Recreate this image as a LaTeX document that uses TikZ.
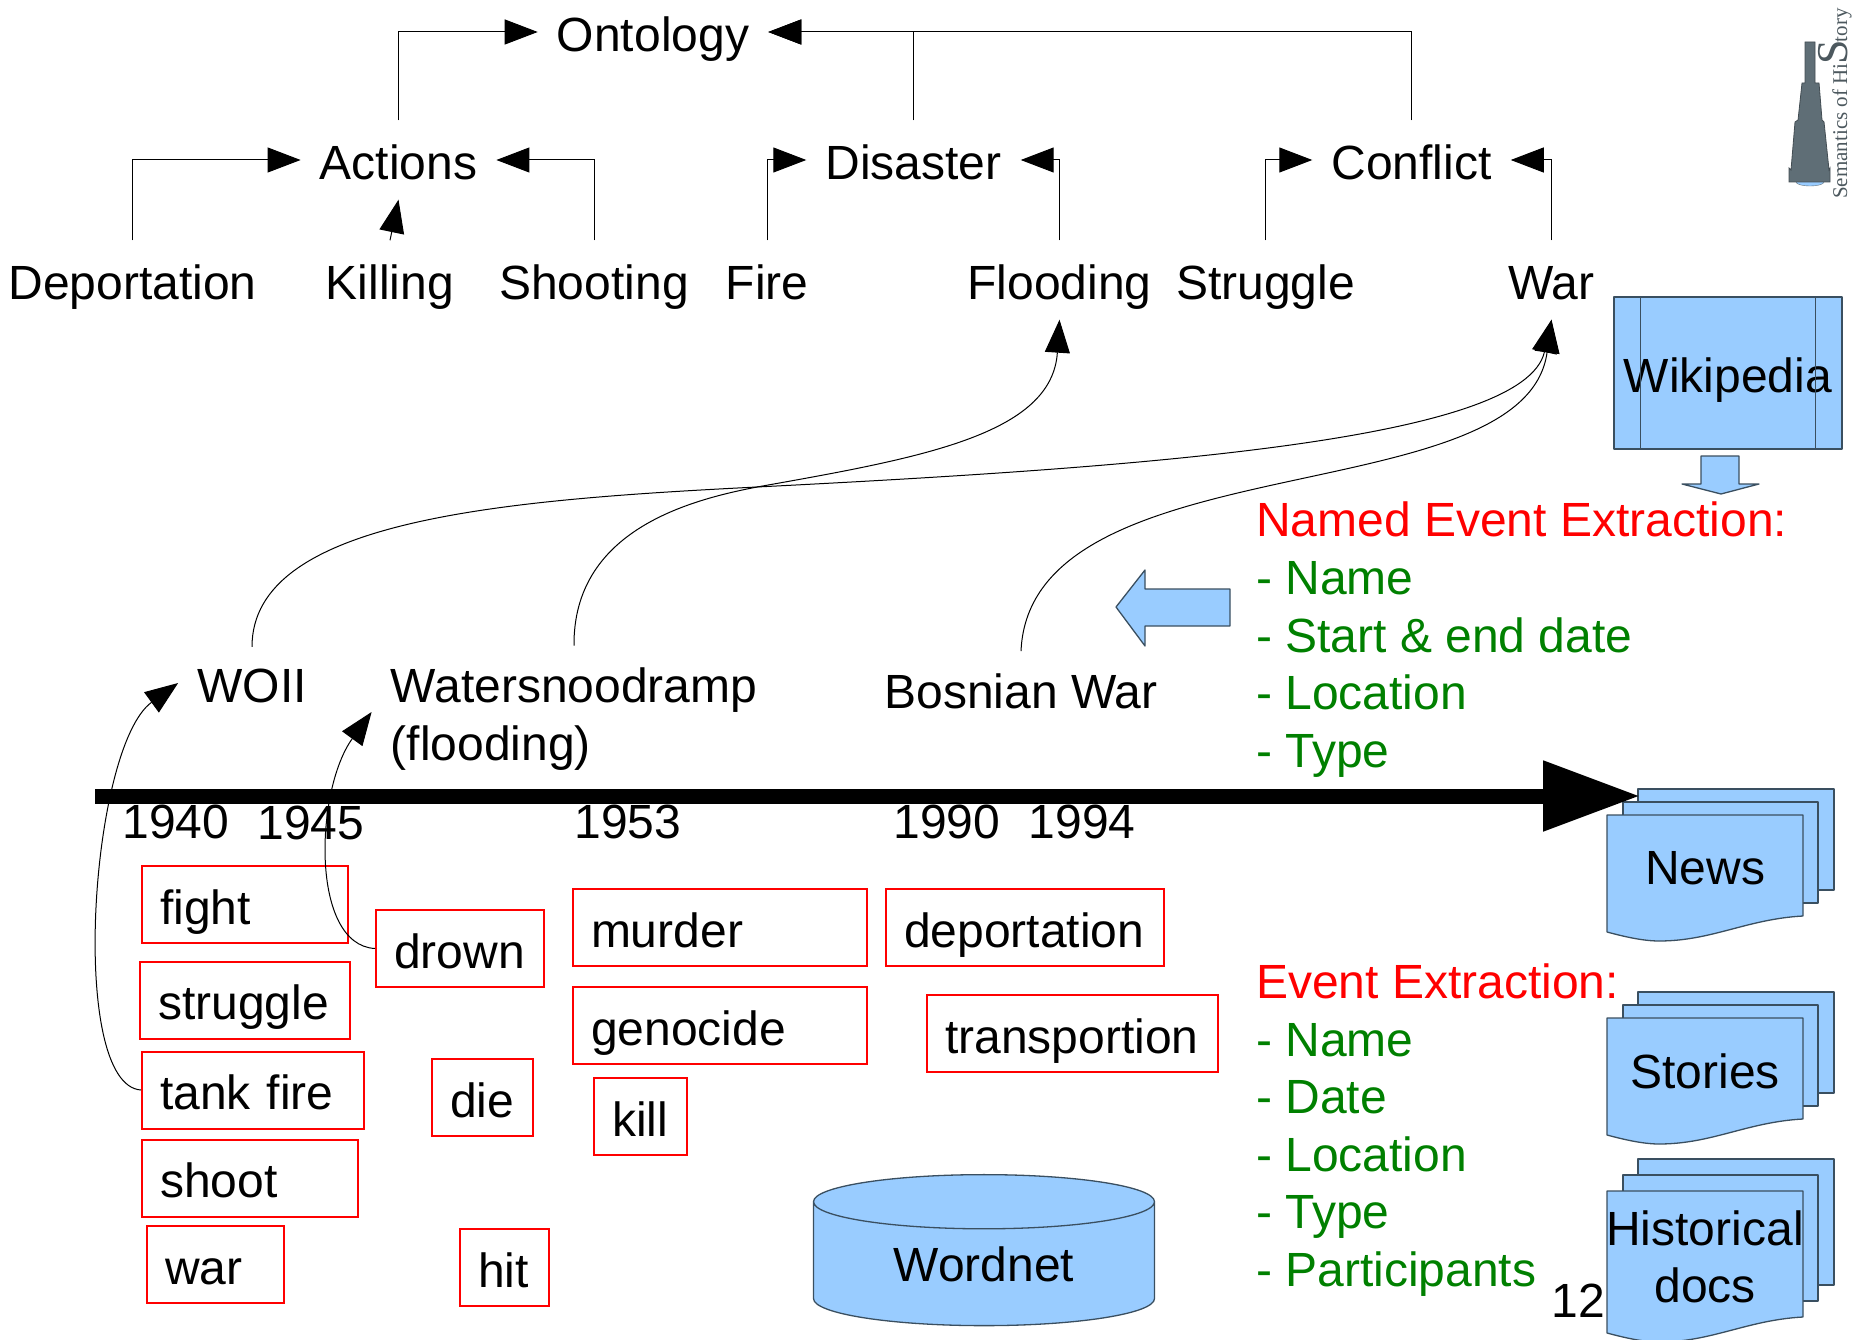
\documentclass[tikz,border=0pt]{standalone}
\usepackage{fontspec}
\setmainfont{Liberation Sans}
\newfontfamily\logofont{Liberation Serif}
\usetikzlibrary{arrows.meta,shapes.geometric}
\definecolor{docblue}{HTML}{99CCFF}
\definecolor{docline}{HTML}{3A4F60}
\definecolor{listgreen}{HTML}{008000}
\definecolor{scopegray}{HTML}{5F6E76}
\hyphenpenalty=10000
\begin{document}
\begin{tikzpicture}[->,>={Triangle[length=33pt,width=25pt]},x=1pt,y=-1pt,font=\fontsize{48pt}{57.6pt}\selectfont]

    \tikzstyle{concept} = [inner xsep=19pt, inner ysep=9pt, text height=50pt, text depth=11pt];
    \tikzstyle{period} = [inner sep=0pt];
    \tikzstyle{event} = [inner xsep=19pt, inner ysep=22pt, align=left];
    \tikzstyle{wordbox} = [draw=red, line width=2pt, minimum height=77pt, inner xsep=18pt, inner ysep=0pt, align=left, text height=49pt, text depth=10pt];
    \tikzstyle{bluebox} = [draw=docline, fill=docblue, line width=1.3pt, line join=round];
    \tikzstyle{link} = [line width=1pt];
    \tikzstyle{listing} = [inner sep=0pt, anchor=north west, align=left, text=listgreen];
    \useasboundingbox (0,0) rectangle (1854,1340);

    % ontology
    \node[concept] (ontology) at (653,32) {Ontology};
    \node[concept] (actions) at (398.5,160) {Actions};
    \node[concept] (disaster) [right of=actions, node distance=515pt] {Disaster};
    \node[concept] (conflict) [right of=disaster, node distance=498pt] {Conflict};
    \node[concept] (deportation) at (132.5,280) {Deportation};
    \node[concept] (killing) [right of=deportation, node distance=257.5pt] {Killing};
    \node[concept] (shooting) [right of=killing, node distance=204pt] {Shooting};
    \node[concept] (fire) [right of=shooting, node distance=173pt] {Fire};
    \node[concept] (flooding) [right of=fire, node distance=292.5pt] {Flooding};
    \node[concept] (struggle) [right of=flooding, node distance=206pt] {Struggle};
    \node[concept] (war) [right of=struggle, node distance=286pt] {War};

    \draw[link] (actions.north) |- (ontology.west);
    \draw[link] (disaster.north) |- (ontology.east);
    \draw[link] (conflict.north) |- (ontology.east);
    \draw[link] (deportation.north) |- (actions.west);
    \draw[link] (killing.north) -- (actions.south);
    \draw[link] (shooting.north) |- (actions.east);
    \draw[link] (fire.north) |- (disaster.west);
    \draw[link] (flooding.north) |- (disaster.east);
    \draw[link] (struggle.north) |- (conflict.west);
    \draw[link] (war.north) |- (conflict.east);

    % events
    \node[event] (woii) at (252,686) {WOII};
    \node[event] (watersnood) at (574,719) {Watersnoodramp\\(flooding)};
    \node[event] (bosnian) at (1021,691) {Bosnian War};
    \coordinate (crossing) at (757,487);

    \draw[link] (woii.north) .. controls (252,520) and (500,500) .. (crossing) .. controls (1150,467) and (1525,440) .. (war.south);
    \draw[link] (watersnood.north) .. controls (573,530) and (690,500) .. (crossing) .. controls (920,458) and (1052,435) .. (flooding.south);
    \draw[link] (bosnian.north) .. controls (1030,440) and (1525,515) .. (war.south);

    % sources
    \node[bluebox, minimum width=228pt, minimum height=152pt, inner sep=0pt, text height=50pt, text depth=11pt] (wikipedia) at (1728,373) {Wikipedia};
    \draw[bluebox,-] ([xshift=27pt]wikipedia.north west) -- ([xshift=27pt]wikipedia.south west);
    \draw[bluebox,-] ([xshift=-27pt]wikipedia.north east) -- ([xshift=-27pt]wikipedia.south east);
    \draw[bluebox] (1701,456) -- (1739,456) -- (1739,484) -- (1759,484) -- (1721,494) -- (1682,484) -- (1701,484) -- cycle;
    \draw[bluebox] (1116,607) -- (1145,570) -- (1145,589) -- (1230,589) -- (1230,626) -- (1145,626) -- (1145,646) -- cycle;

    \foreach \docname/\docy/\dgap/\dh/\doctext in {news/815/13/101/News,stories/1018/13/101/Stories,historical/1191/16/126/{Historical\\docs}} {
        \begin{scope}[shift={(1607,\docy)}]
            \draw[bluebox] (31,-2*\dgap) rectangle (227,\dh-2*\dgap);
            \draw[bluebox] (16,-\dgap) rectangle (211,\dh-\dgap);
            \draw[bluebox] (0,0) -- (196,0) -- (196,\dh) .. controls (140,\dh+3) and (105,\dh+25) .. (52,\dh+25) .. controls (35,\dh+25) and (15,\dh+20) .. (0,\dh+16) -- cycle;
            \node[inner sep=0pt, align=center] (\docname) at (98,\dh/2+3) {\doctext};
        \end{scope}
    }

    % timeline
    \coordinate (tstart) at (95,796);
    \coordinate (tend) at (1640,796);
    \draw[line width=15pt, -{Triangle[length=97pt,width=67pt]}] (tstart) -- (tend);
    \node[period] (y1940) at (176,822) {1940};
    \node[period] (y1945) at (311,823) {1945};
    \node[period] (y1953) at (628,822) {1953};
    \node[period] (y1990) at (947,822) {1990};
    \node[period] (y1994) at (1082,822) {1994};

    % words
    \node[wordbox, text width=170pt] (wfight) at (245,904.5) {fight};
    \node[wordbox, text width=174pt] (wstruggle) at (245,1000) {struggle};
    \node[wordbox, text width=186pt] (wtank) at (253,1090) {tank fire};
    \node[wordbox, text width=180pt] (wshoot) at (250,1178) {shoot};
    \node[wordbox, text width=101pt] (wwar) at (215.5,1264.5) {war};
    \node[wordbox, text width=132pt] (wdrown) at (460,948.5) {drown};
    \node[wordbox, text width=65pt] (wdie) at (482.5,1097.5) {die};
    \node[wordbox, text width=53pt] (whit) at (504.5,1267.5) {hit};
    \node[wordbox, text width=258pt] (wmurder) at (720,927.5) {murder};
    \node[wordbox, text width=258pt] (wgenocide) at (720,1025.5) {genocide};
    \node[wordbox, text width=57pt] (wkill) at (640.5,1116.5) {kill};
    \node[wordbox, text width=242pt] (wdeportation) at (1025,927.5) {deportation};
    \node[wordbox, text width=255pt] (wtransportion) at (1072.5,1033.5) {transportion};

    \draw[link] (wtank.west) .. controls (68,1085) and (90,747) .. ([yshift=3pt]woii.west);
    \draw[link] (wdrown.west) .. controls (310,945) and (315,790) .. ([yshift=7pt]watersnood.west);

    % extraction lists
    \node[listing] (namedlist) at (1256,502) {\textcolor{red}{Named Event Extraction:}\\- Name\\- Start \& end date\\- Location\\- Type};
    \node[listing] (eventlist) at (1256,963.5) {\textcolor{red}{Event Extraction:}\\- Name\\- Date\\- Location\\- Type\\- Participants};

    \node[bluebox, cylinder, shape border rotate=90, aspect=0.3, minimum width=341pt, minimum height=151pt, inner sep=0pt] (wordnet) at (984,1264) {Wordnet};
    \node[period] (pagenr) at (1578,1301) {12};

    % logo
    \draw[fill=docblue, draw=scopegray, -] (1810,182) ellipse (14pt and 4pt);
    \draw[fill=scopegray, draw=scopegray!70!black, line width=0.8pt] (1805,42) -- (1815,42) -- (1815,83) -- (1819,83) -- (1822,120) -- (1824,122) -- (1829,170) -- (1830,168) -- (1830,182) -- (1789,182) -- (1789,168) -- (1791,170) -- (1795,122) -- (1798,120) -- (1802,83) -- (1805,83) -- cycle;
    \node[rotate=90, anchor=base west, inner sep=0pt, text=scopegray!80!black, font=\logofont\fontsize{21pt}{24pt}\selectfont] (logotext) at (1847,199) {Semantics of Hi{\fontsize{44pt}{44pt}\selectfont\kern-1pt S\kern-2pt}tory};

\end{tikzpicture}
\end{document}
